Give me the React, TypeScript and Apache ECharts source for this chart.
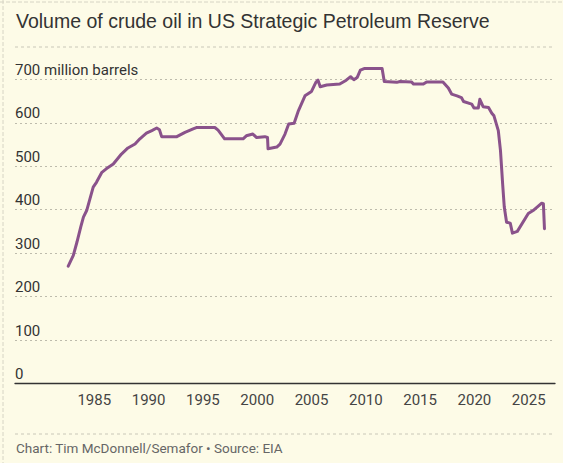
import React, { useEffect, useRef } from "react";
import * as echarts from "echarts";

const years = [
  1982.6, 1983.07, 1983.4, 1983.75, 1984.0, 1984.3, 1984.6, 1984.9, 1985.2, 1985.7,
  1986.1, 1986.75, 1987.5, 1988.1, 1988.75, 1989.2, 1989.8, 1990.3, 1990.75, 1991.0,
  1991.2, 1992.6, 1993.35, 1994.1, 1994.4, 1996.1, 1996.4, 1997.0, 1998.7, 1999.0,
  1999.6, 1999.95, 2000.7, 2000.95, 2001.0, 2001.8, 2002.1, 2002.56, 2002.9, 2003.4,
  2003.8, 2004.4, 2005.0, 2005.4, 2005.6, 2005.8, 2006.4, 2007.6, 2008.2, 2008.6,
  2008.9, 2009.2, 2009.5, 2009.9, 2011.5, 2011.7, 2012.85, 2013.15, 2014.2, 2014.4,
  2015.3, 2015.6, 2017.1, 2017.6, 2017.9, 2018.4, 2018.8, 2019.0, 2019.75, 2019.96,
  2020.36, 2020.5, 2020.8, 2021.3, 2021.6, 2021.8, 2022.2, 2022.4, 2022.6, 2022.75,
  2022.96, 2023.3, 2023.5, 2023.95, 2024.96, 2025.4, 2026.2, 2026.35, 2026.45,
];
const barrels = [
  270, 295, 325, 360, 383, 398, 425, 452, 463, 486,
  494, 505, 528, 542, 551, 563, 576, 582, 588, 584,
  568, 568, 578, 586, 589, 589, 583, 563, 563, 570,
  574, 566, 568, 566, 540, 544, 551, 574, 597, 599,
  628, 662, 672, 693, 698, 683, 687, 689, 698, 706,
  699, 704, 721, 725, 725, 695, 693, 695, 694, 689,
  689, 694, 694, 680, 666, 662, 658, 649, 643, 634,
  634, 654, 637, 635, 622, 616, 582, 536, 459, 406,
  371, 369, 346, 350, 391, 398, 415, 414, 356,
];
const xTicks = [1985, 1990, 1995, 2000, 2005, 2010, 2015, 2020, 2025];
const yTicks = [0, 100, 200, 300, 400, 500, 600, 700];
const yUnit = "million barrels";
const title = "Volume of crude oil in US Strategic Petroleum Reserve";
const source = "Chart: Tim McDonnell/Semafor • Source: EIA";

export default function App() {
  const ref = useRef<HTMLDivElement>(null);
  useEffect(() => {
    document.body.style.margin = "0";
    const chart = echarts.init(ref.current!, undefined, { renderer: "svg" });
    const data = years.map((y, i) => [y, barrels[i]]);
    chart.setOption({
      animation: false,
      backgroundColor: "#fdfbe7",
      grid: { left: 15, right: 8, top: 79.3, bottom: 79.5, containLabel: false },
      xAxis: {
        type: "value",
        min: 1977.7,
        max: 2027.42,
        axisLine: { show: true, lineStyle: { color: "#333", width: 1.3 } },
        axisTick: { show: false },
        splitLine: { show: false },
        axisLabel: {
          customValues: xTicks,
          color: "#444",
          fontFamily: "Roboto",
          fontSize: 15,
          margin: 9,
          formatter: (v: number) => String(v),
        },
      },
      yAxis: {
        type: "value",
        min: 0,
        max: 700,
        interval: 100,
        axisLine: { show: false },
        axisTick: { show: false },
        splitLine: { show: true, lineStyle: { color: "#bdbbac", type: [2, 3], width: 1 } },
        axisLabel: {
          inside: true,
          margin: 0,
          align: "left",
          verticalAlign: "bottom",
          padding: [0, 0, 2, 0],
          color: "#333",
          fontFamily: "Roboto",
          fontSize: 15,
          formatter: (v: number) => (v === 700 ? `${v} ${yUnit}` : String(v)),
          customValues: yTicks,
        },
      },
      series: [
        {
          type: "line",
          data,
          clip: false,
          showSymbol: false,
          symbol: "none",
          lineStyle: { color: "#8a528b", width: 3, join: "round", cap: "round" },
        },
      ],
      graphic: [
        {
          type: "text",
          left: 16,
          top: 11,
          style: { text: title, fontFamily: "Liberation Sans", fontSize: 19.5, fill: "#333" },
        },
        {
          type: "line",
          shape: { x1: 15, y1: 47, x2: 555, y2: 47 },
          style: { stroke: "#c9c7b8", lineWidth: 1, lineDash: [3, 3] },
        },
        {
          type: "line",
          shape: { x1: 15, y1: 434, x2: 555, y2: 434 },
          style: { stroke: "#c9c7b8", lineWidth: 1, lineDash: [3, 3] },
        },
        {
          type: "line",
          shape: { x1: 0, y1: 2, x2: 563, y2: 2 },
          style: { stroke: "#d6d4c4", lineWidth: 1, lineDash: [4, 2] },
        },
        {
          type: "line",
          shape: { x1: 3, y1: 0, x2: 3, y2: 463 },
          style: { stroke: "#d6d4c4", lineWidth: 1, lineDash: [4, 2] },
        },
        {
          type: "text",
          left: 16,
          top: 441,
          style: { text: source, fontFamily: "Roboto", fontSize: 13.5, fill: "#666" },
        },
      ],
    });
    return () => chart.dispose();
  }, []);
  return <div ref={ref} style={{ width: 563, height: 463 }} />;
}
